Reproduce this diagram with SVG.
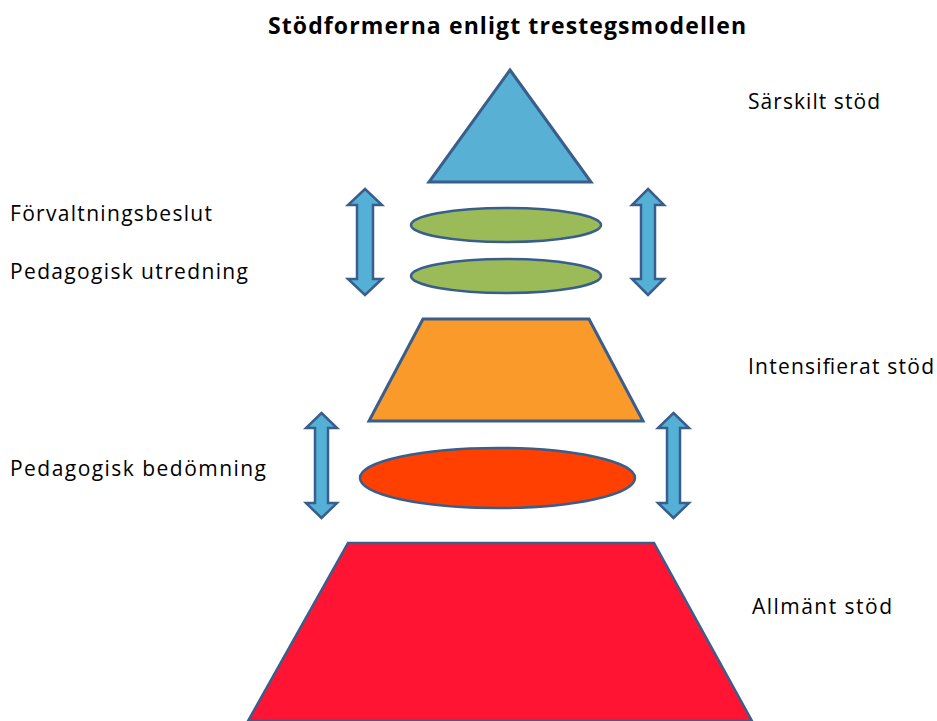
<svg xmlns="http://www.w3.org/2000/svg" width="937" height="721" viewBox="0 0 937 721">
<style>
.t{font-family:"Open Sans","Liberation Sans",Arial,sans-serif;font-size:21px;fill:#000}
.title{font-family:"Open Sans","Liberation Sans",Arial,sans-serif;font-size:23px;font-weight:bold;fill:#000}
.s{stroke:#3A5E8C;stroke-linejoin:miter}
.arr{fill:#55B0D6;stroke:#3A5E8C;stroke-width:2.5}
</style>
<rect width="937" height="721" fill="#fff"/>
<text class="title" x="268" y="34" textLength="478" lengthAdjust="spacing">Stödformerna enligt trestegsmodellen</text>
<g id="sarskilt">
<polygon class="s" points="510,70 591,182 429,182" fill="#58B0D5" stroke-width="3"/>
<text class="t" x="748" y="109" textLength="132" lengthAdjust="spacing">Särskilt stöd</text>
</g>
<g id="forvaltningsbeslut">
<ellipse class="s" cx="506" cy="225" rx="95" ry="17" fill="#9BBB59" stroke-width="2.5"/>
<text class="t" x="10" y="221" textLength="202" lengthAdjust="spacing">Förvaltningsbeslut</text>
</g>
<g id="utredning">
<ellipse class="s" cx="506" cy="276" rx="95" ry="17" fill="#9BBB59" stroke-width="2.5"/>
<text class="t" x="10" y="279" textLength="238" lengthAdjust="spacing">Pedagogisk utredning</text>
</g>
<g id="intensifierat">
<polygon class="s" points="423,319 589,319 643,421 369,421" fill="#F99A2B" stroke-width="3"/>
<text class="t" x="748" y="374" textLength="186" lengthAdjust="spacing">Intensifierat stöd</text>
</g>
<g id="bedomning">
<ellipse class="s" cx="497.5" cy="478" rx="137.5" ry="30" fill="#FF4000" stroke-width="2.5"/>
<text class="t" x="10" y="476" textLength="256" lengthAdjust="spacing">Pedagogisk bedömning</text>
</g>
<g id="allmant">
<polygon class="s" points="348,543 654,543 752,721 248,721" fill="#FF1533" stroke-width="2.5"/>
<text class="t" x="752" y="614" textLength="140" lengthAdjust="spacing">Allmänt stöd</text>
</g>
<g id="connectors">
<polygon class="arr" points="365,189 382,205 373,205 373,279 382,279 365,295 348,279 357,279 357,205 348,205"/>
<polygon class="arr" points="648,189 664,205 655,205 655,279 664,279 648,295 632,279 641,279 641,205 632,205"/>
<polygon class="arr" points="321.5,413 337,428 328,428 328,503 337,503 321.5,518 306,503 315,503 315,428 306,428"/>
<polygon class="arr" points="673.5,413 689,428 680,428 680,503 689,503 673.5,518 658,503 667,503 667,428 658,428"/>
</g>
</svg>
